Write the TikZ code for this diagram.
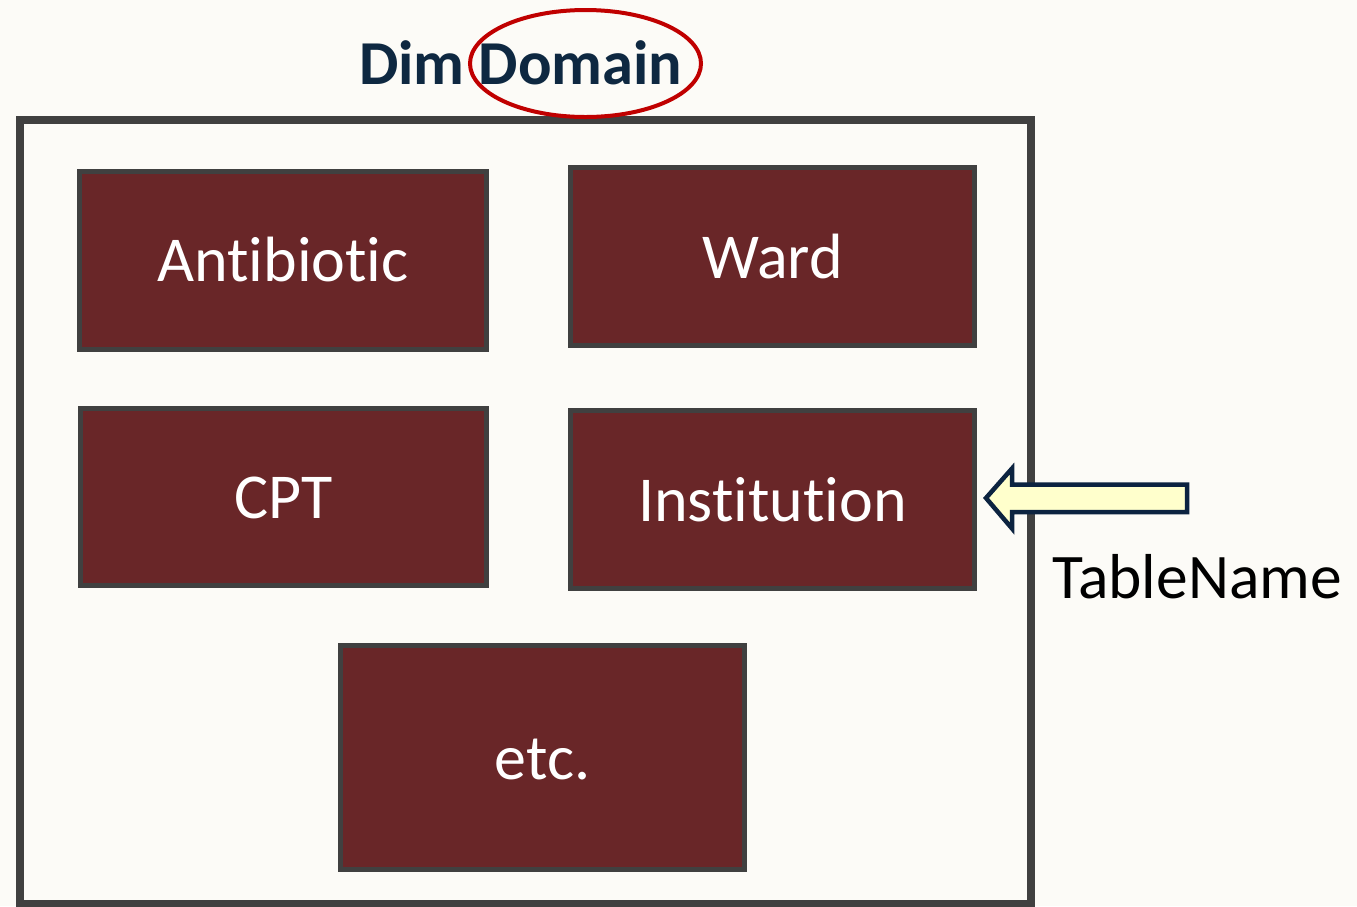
\documentclass[tikz,border=0pt]{standalone}
\usepackage{fontspec}
\setmainfont[Ligatures=NoCommon]{Carlito}
\begin{document}
\definecolor{pagebg}{HTML}{FCFBF7}
\definecolor{framegray}{HTML}{404040}
\definecolor{tablered}{HTML}{692628}
\definecolor{titlenavy}{HTML}{0E2841}
\definecolor{ringred}{HTML}{C00000}
\definecolor{arrowfill}{HTML}{FFFFCC}
\definecolor{arrowline}{HTML}{0C2340}
\begin{tikzpicture}[x=1pt,y=-1pt,
  tablebox/.style={draw=framegray, line width=5pt, fill=tablered, text=white,
    inner sep=0pt, text height=43pt, text depth=0pt,
    font=\fontsize{64}{70}\selectfont},
  framebox/.style={draw=framegray, line width=8pt, fill=pagebg},
  ring/.style={draw=ringred, line width=4pt},
  pointer/.style={draw=arrowline, line width=4.5pt, fill=arrowfill, line join=miter}]
  % page
  \fill[pagebg] (0,0) rectangle (1357,906);
  \useasboundingbox (0,0) rectangle (1357,906);
  % outer frame of the dimension
  \draw[framebox] (19.5,119.5) rectangle (1031,904);
  % title
  \node[anchor=base west, inner sep=0pt, text=titlenavy,
        font=\bfseries\fontsize{62.5}{68}\selectfont] (title) at (359,84) {Dim Domain};
  \draw[ring] (585.5,63.5) ellipse [x radius=115.5, y radius=53.5];
  % member tables
  \node[tablebox, minimum width=407pt, minimum height=178.5pt] (antibiotic) at (283,260.25) {Antibiotic};
  \node[tablebox, minimum width=404pt, minimum height=178pt] (ward) at (772.5,256.5) {Ward};
  \node[tablebox, minimum width=406pt, minimum height=177pt] (cpt) at (283.5,497) {CPT};
  \node[tablebox, minimum width=404pt, minimum height=178pt] (institution) at (772.5,499.5) {Institution};
  \node[tablebox, minimum width=404pt, minimum height=224pt] (etc) at (542.5,757.5) {etc.};
  % block arrow pointing at a table
  \coordinate (tip) at ([xshift=9pt]institution.east);
  \draw[pointer] (tip |- 0,498) -- (1012,468.5) -- (1012,484.5) -- (1187,484.5)
    -- (1187,512) -- (1012,512) -- (1012,528.5) -- cycle;
  \node[anchor=base west, inner sep=0pt, font=\fontsize{63.5}{68}\selectfont] (tablename) at (1052,598) {TableName};
\end{tikzpicture}
\end{document}
